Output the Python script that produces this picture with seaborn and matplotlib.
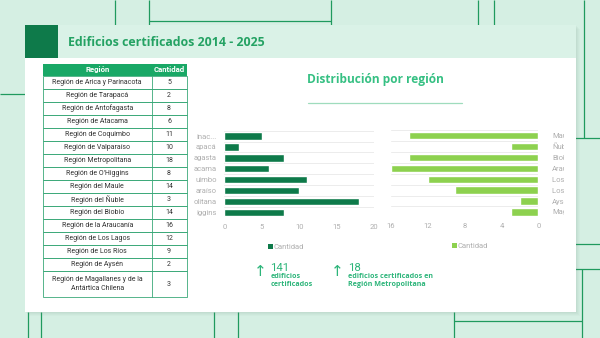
import numpy as np
import pandas as pd
import matplotlib
matplotlib.use("Agg")
import matplotlib.pyplot as plt
import seaborn as sns
from matplotlib.patches import Rectangle
from matplotlib.transforms import Bbox, TransformedBbox

# ---- data -------------------------------------------------------------
regiones = [
    "Región de Arica y Parinacota", "Región de Tarapacá", "Región de Antofagasta",
    "Región de Atacama", "Región de Coquimbo", "Región de Valparaíso",
    "Región Metropolitana", "Región de O'Higgins", "Región del Maule",
    "Región del Ñuble", "Región del Biobío", "Región de la Araucanía",
    "Región de Los Lagos", "Región de Los Ríos", "Región de Aysén",
    "Región de Magallanes y de la\nAntártica Chilena",
]
cantidades = [5, 2, 8, 6, 11, 10, 18, 8, 14, 3, 14, 16, 12, 9, 2, 3]

# category labels of the two bar panels (the northern panel's labels are
# cut off by the table, so only their tails are kept)
etiquetas_norte = ["inac...", "apacá", "agasta", "acama",
                   "uimbo", "araíso", "olitana", "iggins"]
etiquetas_sur = ["Maule", "Ñuble", "Biobío", "Araucanía",
                 "Los Lagos", "Los Ríos", "Aysén", "Magallanes"]
ticks_norte = [0, 5, 10, 15, 20]
ticks_sur = [0, 4, 8, 12, 16]

titulo = "Edificios certificados 2014 - 2025"
subtitulo = "Distribución por región"

# ---- styling ----------------------------------------------------------
W, H = 600, 338
BG = "#d5efe3"
HEADER_BAND = "#daf2e7"
LINE = "#1f9a5e"
DARK = "#0e7a4a"
LIGHT = "#8dd14f"
TITLE_C = "#24a263"
SUB_C = "#36c083"
KPI_C = "#2db57a"
TABLE_HEAD = "#19a866"
TABLE_LINE = "#3aa878"
GREY = "#afafaf"
HEAD_FONT = ["Open Sans", "DejaVu Sans"]

sns.set_theme(style="white")
plt.rcParams["font.family"] = ["Roboto", "DejaVu Sans"]

fig = plt.figure(figsize=(W / 100, H / 100), dpi=100)
fig.patch.set_facecolor(BG)

base = fig.add_axes([0, 0, 1, 1], zorder=0)
base.set_xlim(0, W)
base.set_ylim(H, 0)
base.axis("off")


def px_rect(x0, y0, x1, y1):
    return [x0 / W, 1 - y1 / H, (x1 - x0) / W, (y1 - y0) / H]


# decorative background lines
segs = [
    ((115, 0), (115, 26)), ((149, 0), (149, 26)), ((149, 21), (331, 21)),
    ((331, 0), (331, 26)), ((478, 0), (478, 26)), ((494, 0), (494, 26)),
    ((584, 0), (584, 138)), ((575, 138), (600, 138)),
    ((575, 244), (600, 244)), ((575, 268.5), (600, 268.5)),
    ((581.5, 268.5), (581.5, 338)), ((454, 312), (454, 338)),
    ((454, 321), (581.5, 321)), ((0, 94), (25, 94)),
    ((27.5, 312), (27.5, 338)), ((41, 312), (41, 338)),
    ((214, 312), (214, 338)), ((238, 312), (238, 338)),
]
for (xa, ya), (xb, yb) in segs:
    base.plot([xa, xb], [ya, yb], color=LINE, lw=0.9, solid_capstyle="butt", zorder=1)

# card with soft shadow
for i, a in enumerate([0.05, 0.05, 0.04, 0.03]):
    base.add_patch(Rectangle((25 + 1 + i, 25 + 1 + i), 550.5, 287,
                             facecolor="#6a8a7a", alpha=a, lw=0, zorder=2))
base.add_patch(Rectangle((25, 25), 550.5, 287, facecolor="white", lw=0, zorder=3))
base.add_patch(Rectangle((25, 25), 550.5, 33, facecolor=HEADER_BAND, lw=0, zorder=3))
base.add_patch(Rectangle((25, 25), 33, 33, facecolor=DARK, lw=0, zorder=4))
base.text(68, 42, titulo, fontsize=8.9, fontweight="bold", color=TITLE_C,
          family=HEAD_FONT, va="center", ha="left", zorder=5)

# ---- table ------------------------------------------------------------
tx0, tx1, tdiv = 43, 186.5, 151.5
head_top, head_bot = 63.5, 75.5
row_h = 13.0
base.add_patch(Rectangle((tx0, head_top), tx1 - tx0, head_bot - head_top,
                         facecolor=TABLE_HEAD, lw=0, zorder=4))
base.text((tx0 + tdiv) / 2, (head_top + head_bot) / 2 + 0.3, "Región", color="white",
          fontsize=5.6, fontweight="bold", ha="center", va="center", zorder=5)
base.text((tdiv + tx1) / 2, (head_top + head_bot) / 2 + 0.3, "Cantidad", color="white",
          fontsize=5.6, fontweight="bold", ha="center", va="center", zorder=5)

y = head_bot
for reg, val in zip(regiones, cantidades):
    h = row_h * (2.05 if "\n" in reg else 1)
    base.add_patch(Rectangle((tx0, y), tx1 - tx0, h, facecolor="none",
                             edgecolor=TABLE_LINE, lw=0.6, zorder=4))
    base.plot([tdiv, tdiv], [y, y + h], color=TABLE_LINE, lw=0.6, zorder=4)
    base.text((tx0 + tdiv) / 2, y + h / 2 + 0.3, reg, fontsize=5.0, color="#333333",
              ha="center", va="center", linespacing=1.45, zorder=5)
    base.text((tdiv + tx1) / 2, y + h / 2 + 0.3, str(val), fontsize=5.0, color="#333333",
              ha="center", va="center", zorder=5)
    y += h

# ---- subtitle ---------------------------------------------------------
base.text(375, 79, subtitulo, fontsize=8.6, fontweight="bold", color=SUB_C,
          family=HEAD_FONT, ha="center", va="center", zorder=5)
base.plot([308, 462], [103, 103], color="#9fdcbd", lw=0.9, zorder=5)

# ---- bar charts -------------------------------------------------------
df_norte = pd.DataFrame({"region": etiquetas_norte, "cantidad": cantidades[:8]})
df_sur = pd.DataFrame({"region": etiquetas_sur, "cantidad": cantidades[8:]})

axL = fig.add_axes(px_rect(224.3, 130.6, 374.3, 218.0), zorder=5)
axR = fig.add_axes(px_rect(391, 130.0, 538.3, 217.4), zorder=5)

for ax, df, col, ticks, lim in [(axL, df_norte, DARK, ticks_norte, (0, 20)),
                                 (axR, df_sur, LIGHT, ticks_sur, (16, 0))]:
    sns.barplot(data=df, x="cantidad", y="region", orient="h", color=col,
                saturation=1, width=0.66, ax=ax, zorder=3)
    ax.set_facecolor("none")
    ax.set_xlim(*lim)
    ax.set_ylim(7.5, -0.5)
    ax.set_xticks(ticks)
    ax.set_xlabel("")
    ax.set_ylabel("")
    ax.set_yticks(np.arange(-0.5, 8, 1), minor=True)
    ax.grid(False)
    ax.grid(which="minor", axis="y", color="#ececec", lw=0.7)
    for s in ax.spines.values():
        s.set_visible(False)
    ax.tick_params(axis="both", which="both", length=0, labelsize=5.5,
                   labelcolor=GREY, colors=GREY)
    ax.tick_params(axis="x", pad=4)

axL.tick_params(axis="y", pad=5.5)
axR.yaxis.tick_right()
axR.tick_params(axis="y", pad=10)

# the southern panel's labels run past the card's inner margin
clipR = TransformedBbox(Bbox.from_extents(0, 0, 564 / W, 1), fig.transFigure)
for lbl in axR.get_yticklabels():
    lbl.set_clip_on(True)
    lbl.set_clip_box(clipR)

# legends
base.add_patch(Rectangle((268, 244), 5, 5, facecolor=DARK, lw=0, zorder=6))
base.text(274, 246.8, "Cantidad", fontsize=5.5, color=GREY, va="center", ha="left", zorder=6)
base.add_patch(Rectangle((452, 243.3), 5, 5, facecolor=LIGHT, lw=0, zorder=6))
base.text(458, 246.1, "Cantidad", fontsize=5.5, color=GREY, va="center", ha="left", zorder=6)

# ---- key figures ------------------------------------------------------
total = sum(cantidades)
metropolitana = cantidades[regiones.index("Región Metropolitana")]
for ax_x, num, lines in [(260, total, "edificios\ncertificados"),
                         (337.5, metropolitana, "edificios certificados en\nRegión Metropolitana")]:
    base.text(ax_x, 271.5, "↑", fontsize=11, color=KPI_C, family="DejaVu Sans",
              ha="center", va="center", zorder=6)
    base.text(ax_x + 10.5, 268, str(num), fontsize=8.2, color=KPI_C,
              ha="left", va="center", zorder=6)
    base.text(ax_x + 10.5, 280.7, lines, fontsize=5.1, color=KPI_C, fontweight="bold",
              family=HEAD_FONT, ha="left", va="center", linespacing=1.2, zorder=6)

fig.savefig("out.png", dpi=100, facecolor=fig.get_facecolor())
